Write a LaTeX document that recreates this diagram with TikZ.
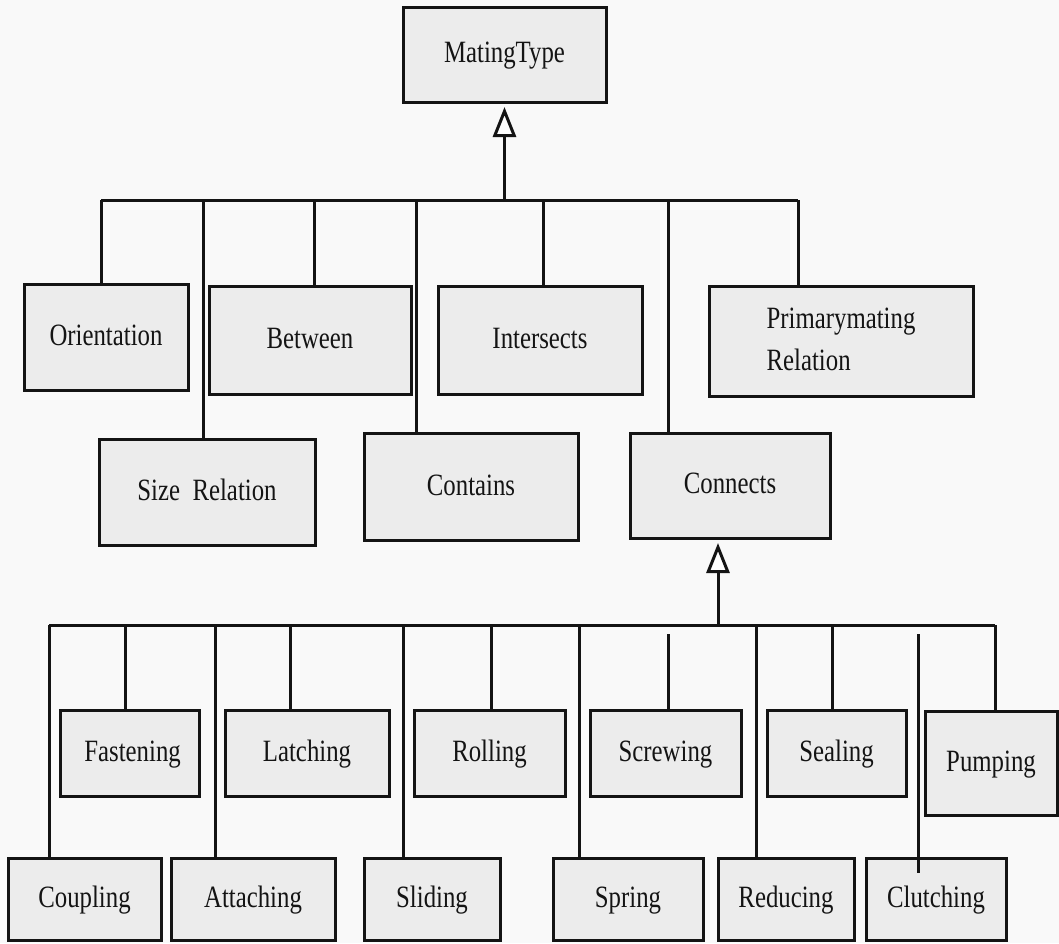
\documentclass[tikz,border=0pt]{standalone}
\usepackage{fontspec}
\usepackage{graphicx}
\setmainfont{Liberation Serif}
\usetikzlibrary{arrows.meta}
\definecolor{paper}{gray}{0.975}
\definecolor{boxfill}{gray}{0.925}
\definecolor{ink}{gray}{0.08}
% condensed label text, one or more left-aligned lines
\newcommand{\lbl}[1]{\scalebox{0.8}[1]{\begin{tabular}{@{}l@{}}#1\end{tabular}}}
\begin{document}
\begin{tikzpicture}[x=1pt,y=-1pt,
  cls/.style={draw=ink, fill=boxfill, line width=3pt, inner sep=0pt,
    text=ink, font=\fontsize{31}{42}\selectfont},
  sz/.style 2 args={minimum width=#1pt, minimum height=#2pt},
  wire/.style={draw=ink, line width=3pt},
  isa/.style={wire, -{Triangle[fill=white, length=30pt, width=23pt]}}]

% page
\fill[paper] (0,0) rectangle (1059,943);
\useasboundingbox (0,0) rectangle (1059,943);

% root class
\node[cls, sz={203}{95}] (mating) at (504.5,54.5) {\lbl{MatingType}};

% first level
\node[cls, sz={164}{106}] (orient)    at (106,337)   {\lbl{Orientation}};
\node[cls, sz={202}{108}] (between)   at (310,340)   {\lbl{Between}};
\node[cls, sz={204}{108}] (intersect) at (540,340)   {\lbl{Intersects}};
\node[cls, sz={264}{110}] (primary)   at (841,341)   {\lbl{Primarymating\\Relation}};
\node[cls, sz={216}{106}] (sizerel)   at (207,492)   {\lbl{Size\ \ Relation}};
\node[cls, sz={214}{107}] (contains)  at (471,487)   {\lbl{Contains}};
\node[cls, sz={200}{105}] (connects)  at (730,485.5) {\lbl{Connects}};

% kinds of connection
\node[cls, sz={139}{86}]  (fasten) at (129.5,753) {\lbl{\ Fastening}};
\node[cls, sz={164}{86}]  (latch)  at (307,753)   {\lbl{Latching}};
\node[cls, sz={151}{86}]  (roll)   at (489.5,753) {\lbl{Rolling}};
\node[cls, sz={151}{86}]  (screw)  at (665.5,753) {\lbl{Screwing}};
\node[cls, sz={139}{86}]  (seal)   at (836.5,753) {\lbl{Sealing}};
\node[cls, sz={132}{104}] (pump)   at (991,763)   {\lbl{Pumping}};
\node[cls, sz={153}{82}]  (couple) at (84.5,899)  {\lbl{Coupling}};
\node[cls, sz={164}{82}]  (attach) at (253,899)   {\lbl{Attaching}};
\node[cls, sz={136}{82}]  (slide)  at (432,899)   {\lbl{Sliding}};
\node[cls, sz={150}{82}]  (spring) at (628,899)   {\lbl{Spring}};
\node[cls, sz={136}{82}]  (reduce) at (786,899)   {\lbl{Reducing}};
\node[cls, sz={140}{82}]  (clutch) at (936,899)   {\lbl{Clutching}};

% generalisation to MatingType
\coordinate (hubA) at (504.5,200);
\coordinate (tipA) at (504.5,107);
\coordinate (busAl) at (101,200);
\coordinate (busAr) at (798,200);
\draw[isa] (hubA) -- (tipA);
\draw[wire] (busAl) -- (busAr);
\draw[wire] (busAl) -- (busAl |- orient.north);
\draw[wire] (203,200) coordinate (tSize) -- (tSize |- sizerel.north);
\draw[wire] (314,200) coordinate (tBetw) -- (tBetw |- between.north);
\draw[wire] (416,200) coordinate (tCont) -- (tCont |- contains.north);
\draw[wire] (543,200) coordinate (tInt)  -- (tInt |- intersect.north);
\draw[wire] (668,200) coordinate (tConn) -- (tConn |- connects.north);
\draw[wire] (busAr) -- (busAr |- primary.north);

% generalisation to Connects
\coordinate (hubB) at (718,625);
\coordinate (tipB) at (718,543);
\coordinate (busBl) at (49,625);
\coordinate (busBr) at (995,625);
\draw[isa] (hubB) -- (tipB);
\draw[wire] (busBl) -- (busBr);
\draw[wire] (busBl) -- (busBl |- couple.north);
\draw[wire] (125,625) coordinate (tFast) -- (tFast |- fasten.north);
\draw[wire] (215,625) coordinate (tAtt)  -- (tAtt |- attach.north);
\draw[wire] (290,625) coordinate (tLat)  -- (tLat |- latch.north);
\draw[wire] (403,625) coordinate (tSli)  -- (tSli |- slide.north);
\draw[wire] (491,625) coordinate (tRol)  -- (tRol |- roll.north);
\draw[wire] (579,625) coordinate (tSpr)  -- (tSpr |- spring.north);
\draw[wire] (668,634) coordinate (tScr)  -- (tScr |- screw.north);
\draw[wire] (756,625) coordinate (tRed)  -- (tRed |- reduce.north);
\draw[wire] (832,625) coordinate (tSea)  -- (tSea |- seal.north);
\coordinate (clutchEnd) at (918,873);
\draw[wire] (918,634) coordinate (tClu)  -- (clutchEnd);
\draw[wire] (busBr) -- (busBr |- pump.north);
\end{tikzpicture}
\end{document}
